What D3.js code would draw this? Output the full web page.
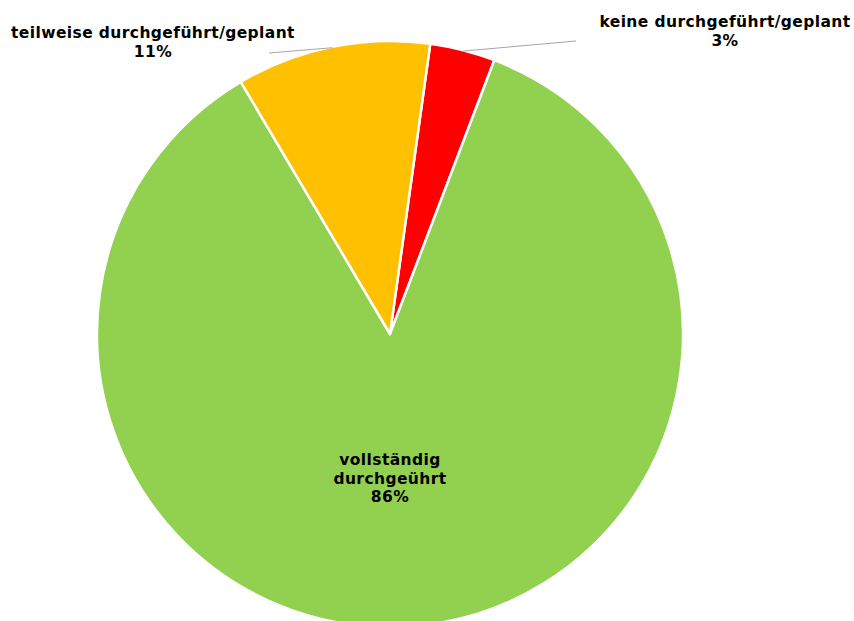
<!DOCTYPE html>
<html>
  <head>
    <meta charset="UTF-8" />
    <style>
      body {
        margin: 0;
        background-color: rgb(255, 255, 255);
      }
      text {
        font-family: 'DejaVu Sans', Verdana, sans-serif;
        font-weight: bold;
        font-size: 15.5px;
        letter-spacing: 0.4px;
        fill: #000;
      }
    </style>
  </head>
  <body>
    <svg></svg>

    <script src="https://d3js.org/d3.v7.min.js"></script>

    <script>
      let width = 854,
        height = 621

      // data, order clockwise from the red slice
      const categories = ['keine durchgeführt/geplant', 'vollständig durchgeührt', 'teilweise durchgeführt/geplant']
      const values = [3.6, 85.7, 10.7]
      const pctLabels = ['3%', '86%', '11%']
      const colors = ['#FF0000', '#92D050', '#FFC000']

      let svg = d3.select('svg').attr('width', width).attr('height', height)

      let cx = 390,
        cy = 334,
        r = 293

      let pie = d3
        .pie()
        .sort(null)
        .startAngle((7.9 * Math.PI) / 180)
        .endAngle((7.9 * Math.PI) / 180 + 2 * Math.PI)

      let arcs = pie(values)
      let arc = d3.arc().innerRadius(0).outerRadius(r)

      let g = svg.append('g').attr('transform', 'translate(' + cx + ',' + cy + ')')

      g.selectAll('path')
        .data(arcs)
        .enter()
        .append('path')
        .attr('d', arc)
        .attr('fill', (d, i) => colors[i])
        .attr('stroke', '#fff')
        .attr('stroke-width', 2.5)
        .attr('stroke-linejoin', 'round')

      // leader lines for the two small slices
      let leaders = [
        { i: 0, to: [576 - cx, 41 - cy] },
        { i: 2, to: [269 - cx, 53 - cy] }
      ]
      leaders.forEach((l) => {
        let a = (arcs[l.i].startAngle + arcs[l.i].endAngle) / 2
        let p = [Math.sin(a) * (r - 1), -Math.cos(a) * (r - 1)]
        g.append('line')
          .attr('x1', p[0])
          .attr('y1', p[1])
          .attr('x2', l.to[0])
          .attr('y2', l.to[1])
          .attr('stroke', '#a6a6a6')
          .attr('stroke-width', 1)
      })

      // labels
      let labelPos = [
        [725, 27],
        [390, 465],
        [153, 38]
      ]
      categories.forEach((c, i) => {
        let lines = i === 1 ? ['vollständig', 'durchgeührt'] : [c]
        lines.push(pctLabels[i])
        let t = svg
          .append('text')
          .attr('text-anchor', 'middle')
          .attr('x', labelPos[i][0])
          .attr('y', labelPos[i][1])
        lines.forEach((s, j) => {
          t.append('tspan')
            .attr('x', labelPos[i][0])
            .attr('dy', j === 0 ? 0 : 18.5)
            .text(s)
        })
      })
    </script>
  </body>
</html>
